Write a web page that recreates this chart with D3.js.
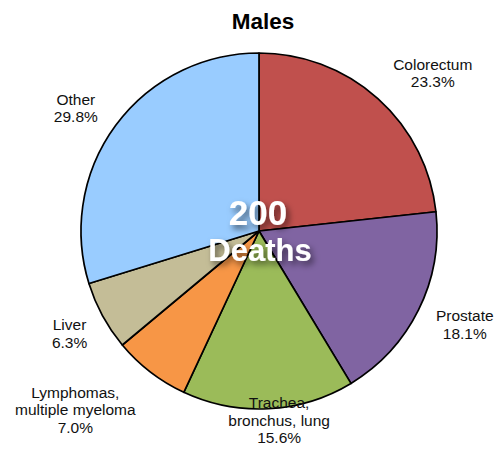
<!DOCTYPE html>
<html><head><meta charset="utf-8">
<script src="https://cdn.jsdelivr.net/npm/d3@7/dist/d3.min.js"></script>
<style>body{margin:0;background:#fff}svg{display:block}text{font-family:"Liberation Sans",Arial,Helvetica,sans-serif}</style>
</head><body><svg id="c" width="496" height="451"></svg>
<script>
const categories = ["Colorectum","Prostate","Trachea, bronchus, lung","Lymphomas, multiple myeloma","Liver","Other"];
const labelLines = [["Colorectum"],["Prostate"],["Trachea,","bronchus, lung"],["Lymphomas,","multiple myeloma"],["Liver"],["Other"]];
const values = [23.3, 18.1, 15.6, 7.0, 6.3, 29.8];
const colors = ["#C0504D","#8064A2","#9BBB59","#F79646","#C4BD97","#99CCFF"];
const totalDeaths = "200";
const title = "Males";

// layout constants (label placement relative to slice mid-angle)
const labelRadiusFactor = [1.32, 1.27, 1.07, 1.44, 1.21, 1.24];
const labelAngleShift = [5.8, -1.9, -3.0, 8.2, 0.1, -2.5];

const svg = d3.select("#c");
const cx = 259, cy = 231, r = 178;
const defs = svg.append("defs");
const f = defs.append("filter").attr("id","sh").attr("x","-20%").attr("y","-30%").attr("width","150%").attr("height","170%");
f.append("feDropShadow").attr("dx",3).attr("dy",4).attr("stdDeviation",3).attr("flood-color","#000").attr("flood-opacity",0.55);

svg.append("text").attr("x",263).attr("y",29).attr("text-anchor","middle")
  .attr("font-size",22.5).attr("font-weight","bold").text(title);

const pie = d3.pie().sort(null).value(d=>d);
const arcs = pie(values);
const arc = d3.arc().innerRadius(0).outerRadius(r);
const g = svg.append("g").attr("transform",`translate(${cx},${cy})`);
g.selectAll("path").data(arcs).join("path")
  .attr("d",arc).attr("fill",(d,i)=>colors[i])
  .attr("stroke","#000").attr("stroke-width",1.7).attr("stroke-linejoin","round");

const lh = 17.5;
arcs.forEach((d,i)=>{
  const a = (d.startAngle+d.endAngle)/2 + labelAngleShift[i]*Math.PI/180;
  const rr = r*labelRadiusFactor[i];
  const x = Math.sin(a)*rr, y = -Math.cos(a)*rr;
  const lines = labelLines[i].concat([values[i].toFixed(1)+"%"]);
  const y0 = y - (lines.length-1)*lh/2 + 5.5;
  const t = g.append("text").attr("text-anchor","middle").attr("font-size",15.5).attr("fill","#111");
  lines.forEach((l,j)=>t.append("tspan").attr("x",x).attr("y",y0+j*lh).text(l));
});

const ct = svg.append("g").attr("filter","url(#sh)");
ct.append("text").attr("x",258).attr("y",225).attr("text-anchor","middle").attr("font-size",35)
  .attr("font-weight","bold").attr("fill","#fff").text(totalDeaths);
ct.append("text").attr("x",260).attr("y",261).attr("text-anchor","middle").attr("font-size",31)
  .attr("font-weight","bold").attr("fill","#fff").text("Deaths");
</script></body></html>
